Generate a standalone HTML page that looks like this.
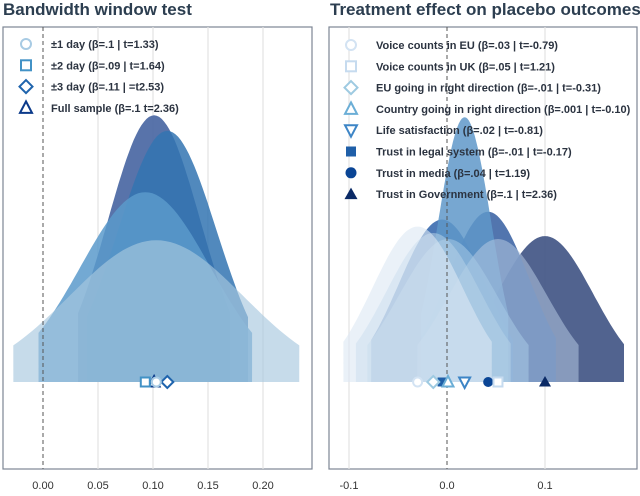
<!DOCTYPE html>
<html><head><meta charset="utf-8"><style>
body{margin:0;background:#fff;width:640px;height:491px;overflow:hidden;font-family:"Liberation Sans",sans-serif}
svg text{font-family:"Liberation Sans",sans-serif}
</style></head><body>
<svg id="chart" width="640" height="491" xmlns="http://www.w3.org/2000/svg">
<text x="3" y="15" font-size="17" font-weight="bold" fill="#2c3e50">Bandwidth window test</text>
<text x="330" y="15" font-size="17" font-weight="bold" fill="#2c3e50">Treatment effect on placebo outcomes</text>
<g id="L"></g>
<g id="R"></g>
</svg>
<script>
// Left panel data
const leftLabels = ["±1 day (β=.1 | t=1.33)","±2 day (β=.09 | t=1.64)","±3 day (β=.11 | =t2.53)","Full sample (β=.1 t=2.36)"];
const leftMeans = [0.103, 0.093, 0.113, 0.101];
const leftSE = [0.079, 0.059, 0.0446, 0.042];
const leftTicks = [0, 0.05, 0.10, 0.15, 0.20];
const leftTickLabels = ["0.00","0.05","0.10","0.15","0.20"];
// Right panel data
const rightLabels = ["Voice counts in EU (β=.03 | t=-0.79)","Voice counts in UK (β=.05 | t=1.21)","EU going in right direction (β=-.01 | t=-0.31)","Country going in right direction (β=.001 | t=-0.10)","Life satisfaction (β=.02 | t=-0.81)","Trust in legal system (β=-.01 | t=-0.17)","Trust in media (β=.04 | t=1.19)","Trust in Government (β=.1 | t=2.36)"];
const rightMeans = [-0.03, 0.052, -0.014, 0.001, 0.018, -0.005, 0.042, 0.1];
const rightSE = [0.046, 0.05, 0.048, 0.05, 0.027, 0.044, 0.042, 0.049];
const rightTicks = [-0.1, 0, 0.1];
const rightTickLabels = ["-0.1","0.0","0.1"];

const NS="http://www.w3.org/2000/svg";
function mk(p,tag,attrs){const e=document.createElementNS(NS,tag);for(const k in attrs)e.setAttribute(k,attrs[k]);p.appendChild(e);return e;}

function marker(g,shape,cx,cy,col,r){
  let e;
  if(shape==="circle") e=mk(g,"circle",{cx,cy,r:r,fill:"#fff",stroke:col,"stroke-width":2});
  else if(shape==="square") e=mk(g,"rect",{x:cx-r,y:cy-r,width:2*r,height:2*r,fill:"#fff",stroke:col,"stroke-width":2});
  else if(shape==="diamond") e=mk(g,"polygon",{points:`${cx},${cy-r-1.5} ${cx+r+1.5},${cy} ${cx},${cy+r+1.5} ${cx-r-1.5},${cy}`,fill:"#fff",stroke:col,"stroke-width":2});
  else if(shape==="tri") e=mk(g,"polygon",{points:`${cx},${cy-r-1.5} ${cx+r+1},${cy+r} ${cx-r-1},${cy+r}`,fill:"#fff",stroke:col,"stroke-width":2});
  else if(shape==="tridown") e=mk(g,"polygon",{points:`${cx},${cy+r+1.5} ${cx+r+1},${cy-r} ${cx-r-1},${cy-r}`,fill:"#fff",stroke:col,"stroke-width":2});
  else if(shape==="fsquare") e=mk(g,"rect",{x:cx-r,y:cy-r,width:2*r,height:2*r,fill:col});
  else if(shape==="fcircle") e=mk(g,"circle",{cx,cy,r:r+0.5,fill:col});
  else if(shape==="ftri") e=mk(g,"polygon",{points:`${cx},${cy-r-1.5} ${cx+r+1.5},${cy+r} ${cx-r-1.5},${cy+r}`,fill:col});
  return e;
}

function panel(g,cfg){
  const {x0,x1,y0,y1,xs,ticks,tickLabels,grid,means,se,scale,labels,fills,ops,strokes,shapes,order,legX,legY,legStep,base}=cfg;
  mk(g,"rect",{x:x0,y:y0,width:x1-x0,height:y1-y0,fill:"#fff",stroke:"#7d8694","stroke-width":1.2});
  grid.forEach(v=>{const l=mk(g,"line",{x1:xs(v),x2:xs(v),y1:y0,y2:y1,stroke:"#e3e3e3","stroke-width":1.2});});
  ticks.forEach((v,i)=>{const t=mk(g,"text",{x:xs(v),y:489,"font-size":11,fill:"#333","text-anchor":"middle"});t.textContent=tickLabels[i];
    });
  order.forEach(i=>{
    const m=means[i],s=se[i],h=scale/s;let d="";
    const a=m-1.645*s,b=m+1.645*s,N=60;
    d+=`M${xs(a)},${base}`;
    for(let k=0;k<=N;k++){const v=a+(b-a)*k/N;const z=(v-m)/s;d+=` L${xs(v).toFixed(1)},${(base-h*Math.exp(-z*z/2)).toFixed(1)}`;}
    d+=` L${xs(b)},${base} Z`;
    const p=mk(g,"path",{d,fill:fills[i],"fill-opacity":ops[i]});
    
    
  });
  const dz=mk(g,"line",{x1:xs(0),x2:xs(0),y1:y0,y2:y1,stroke:"#555","stroke-width":1,"stroke-dasharray":"4,3"});
  
  order.forEach(i=>{const e=marker(g,shapes[i],xs(means[i]),base,strokes[i],4.5);
    });
  labels.forEach((t,i)=>{const y=legY+i*legStep;
    const e=marker(g,shapes[i],legX,y,strokes[i],5);
    
    const tx=mk(g,"text",{x:legX+25,y:y+4,"font-size":11,"font-weight":"bold",fill:"#2b3340"});tx.textContent=t;
    });
}

panel(document.getElementById("L"),{x0:3,x1:312,y0:27,y1:469,xs:v=>43+v*1100,ticks:leftTicks,tickLabels:leftTickLabels,grid:[0.05,0.1,0.15,0.2],
  means:leftMeans,se:leftSE,scale:11.2,labels:leftLabels,
  fills:["#a7c8df","#5b9acb","#3274b2","#4a67a3"],ops:[0.65,0.85,0.85,0.92],
  strokes:["#a8cbe4","#4292c6","#1f64ad","#0b3a8a"],shapes:["circle","square","diamond","tri"],
  order:[3,2,1,0],legX:26,legY:44,legStep:21.3,base:382});

panel(document.getElementById("R"),{x0:329,x1:637,y0:27,y1:469,xs:v=>447+v*980,ticks:rightTicks,tickLabels:rightTickLabels,grid:[-0.1,0.1],
  means:rightMeans,se:rightSE,scale:7.15,labels:rightLabels,
  fills:["#dce8f4","#b4c8e2","#b7d2e8","#a8cbe6","#5f98c9","#3568ad","#3a62a3","#3e5283"],
  ops:[0.6,0.55,0.55,0.55,0.85,0.88,0.88,0.9],
  strokes:["#d3e3f3","#c6dbef","#9ecae1","#6baed6","#3d85c6","#1f5fa8","#0a4595","#0b2a66"],
  shapes:["circle","square","diamond","tri","tridown","fsquare","fcircle","ftri"],
  order:[7,6,5,4,1,3,2,0],legX:351,legY:45,legStep:21.3,base:382});
</script>
</body></html>
